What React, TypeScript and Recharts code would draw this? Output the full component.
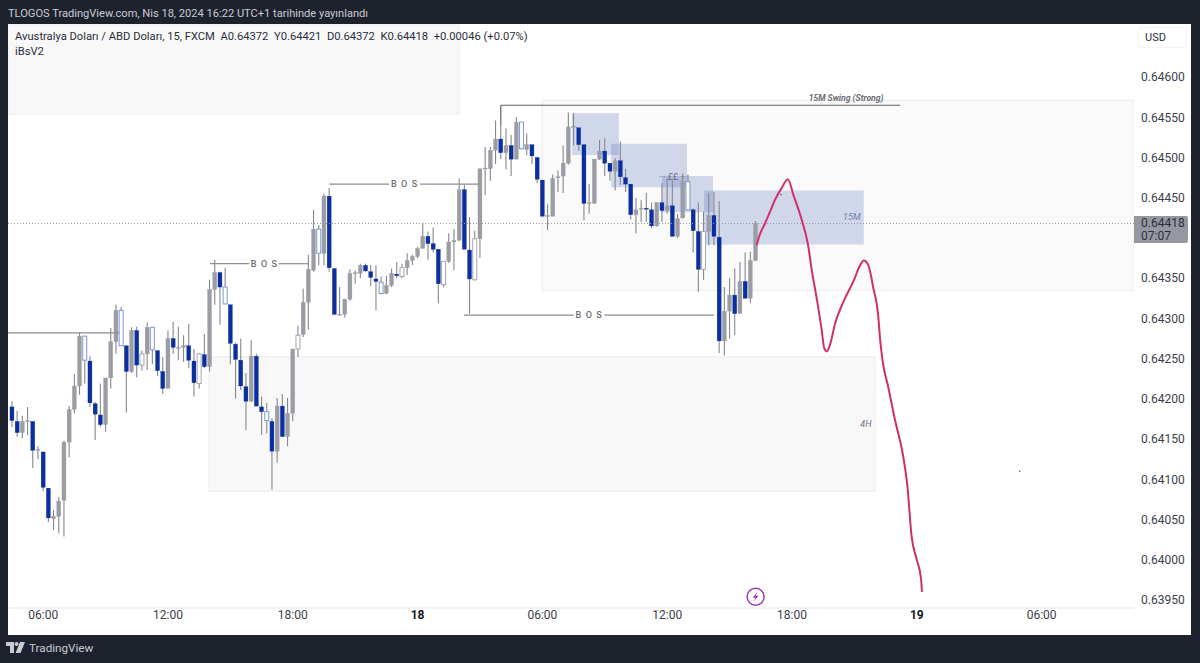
import React from "react";
import {
  ComposedChart, Bar, Line, XAxis, YAxis, ReferenceArea, ReferenceLine, ReferenceDot,
} from "recharts";

// All prices are in 1/100000 of a USD (pipettes), so 64418 = 0.64418. Bars are 15-minute steps.
const opens = [
  64190,64172,64158,64172,64172,64136,64134,64089,64051,64054,
  64074,64146,64187,64216,64278,64247,64194,64180,64168,64226,
  64271,64310,64266,64234,64285,64242,64256,64289,64260,64234,
  64213,64275,64264,64264,64266,64247,64219,64255,64240,64336,
  64357,64339,64317,64268,64248,64215,64197,64253,64190,64184,
  64172,64135,64191,64153,64182,64262,64280,64320,64360,64411,
  64381,64452,64362,64305,64305,64324,64356,64356,64366,64358,
  64349,64345,64331,64341,64355,64352,64363,64372,64377,64387,
  64402,64393,64386,64342,64371,64395,64397,64460,64385,64348,
  64399,64486,64486,64509,64523,64506,64515,64498,64544,64510,
  64516,64500,64472,64428,64427,64475,64477,64493,64538,64537,
  64516,64443,64443,64498,64508,64493,64483,64496,64475,64467,
  64429,64436,64437,64435,64415,64444,64434,64440,64402,64425,
  64470,64435,64408,64361,64408,64428,64401,64272,64309,64329,
  64306,64346,64325,64372,
];
const closes = [
  64173,64158,64172,64173,64136,64137,64090,64052,64054,64073,
  64146,64187,64216,64278,64248,64195,64181,64168,64226,64271,
  64310,64266,64234,64285,64242,64256,64289,64261,64235,64213,
  64275,64264,64264,64266,64248,64220,64256,64240,64336,64357,
  64339,64318,64269,64249,64216,64197,64253,64191,64184,64173,
  64135,64191,64153,64182,64262,64279,64320,64361,64411,64381,
  64452,64363,64305,64305,64324,64356,64357,64366,64359,64351,
  64346,64331,64341,64356,64353,64363,64372,64377,64387,64402,
  64393,64386,64343,64371,64395,64397,64460,64386,64349,64399,
  64486,64487,64509,64523,64506,64515,64498,64544,64511,64516,
  64502,64473,64427,64428,64474,64476,64493,64538,64539,64516,
  64443,64444,64498,64508,64493,64483,64496,64476,64467,64429,
  64435,64437,64436,64415,64444,64434,64440,64402,64424,64470,
  64435,64409,64361,64408,64428,64402,64272,64309,64329,64306,
  64346,64325,64372,64418,
];
const highs = [
  64197,64185,64179,64190,64172,64141,64134,64089,64062,64078,
  64148,64191,64231,64282,64278,64253,64196,64219,64226,64288,
  64317,64314,64266,64289,64290,64260,64295,64289,64260,64252,
  64285,64296,64290,64279,64293,64262,64257,64281,64348,64373,
  64358,64363,64317,64270,64275,64232,64273,64256,64203,64195,
  64176,64201,64206,64201,64262,64291,64337,64379,64435,64416,
  64455,64462,64362,64339,64324,64361,64360,64368,64368,64366,
  64366,64352,64353,64362,64370,64368,64381,64379,64389,64419,
  64408,64413,64386,64371,64406,64411,64474,64466,64426,64409,
  64486,64513,64513,64546,64540,64536,64528,64550,64544,64530,
  64516,64501,64472,64442,64479,64484,64515,64556,64555,64537,
  64516,64467,64498,64522,64524,64493,64499,64520,64486,64467,
  64450,64447,64456,64444,64444,64468,64474,64471,64430,64480,
  64479,64437,64444,64433,64456,64457,64446,64339,64350,64362,
  64370,64382,64383,64421,
];
const lows = [
  64165,64153,64151,64155,64114,64125,64085,64047,64037,64033,
  64029,64127,64182,64205,64219,64190,64149,64165,64159,64213,
  64256,64266,64183,64232,64227,64235,64236,64243,64228,64206,
  64213,64256,64248,64246,64238,64203,64213,64238,64234,64317,
  64292,64318,64243,64200,64211,64161,64196,64191,64155,64157,
  64087,64121,64153,64141,64172,64252,64277,64286,64358,64366,
  64366,64358,64305,64304,64301,64322,64343,64350,64358,64340,
  64310,64330,64330,64339,64350,64350,64354,64366,64375,64387,
  64373,64382,64319,64339,64369,64360,64397,64386,64306,64347,
  64375,64453,64471,64492,64498,64485,64477,64498,64510,64503,
  64492,64468,64427,64410,64427,64457,64456,64491,64515,64508,
  64422,64430,64443,64497,64477,64471,64459,64466,64457,64423,
  64406,64420,64420,64412,64414,64420,64430,64402,64400,64424,
  64435,64382,64333,64348,64391,64391,64257,64254,64275,64279,
  64306,64325,64319,64372,
];
const hollowBars = [14,21,25,27,36,41,49,55,59,71,75,83,89,98,130,133];

const timeTicks = [6,30,54,78,102,126,150,174,198];
const timeLabels = ["06:00","12:00","18:00","18","06:00","12:00","18:00","19","06:00"];
const priceTicks = [63950,64000,64050,64100,64150,64200,64250,64300,64350,64450,64500,64550,64600];
const lastPrice = 64418;

// The hand-drawn projection, as (bar, price) pairs.
const sketchBars = [143.2,143.8,144.8,145.8,146.7,148,149.2,150.3,151.9,153.1,153.8,154.8,155.7,156.2,156.7,157.3,158.3,159.9,161.8,163.1,163.8,164.7,165.6,166.6,166.9,167.4,168.5,169.8,171.4,172.2,173,174,174.8,175];
const sketchPrices = [64391,64404,64418,64433,64447,64462,64473,64453,64422,64391,64360,64323,64286,64263,64259,64267,64294,64321,64346,64366,64372,64366,64339,64302,64277,64248,64215,64174,64128,64091,64029,64000,63977,63960];

const candles = opens.map((open, i) => ({
  bar: i, open, close: closes[i], high: highs[i], low: lows[i],
  range: [lows[i], highs[i]],
  hollow: hollowBars.includes(i),
}));
const sketch = sketchBars.map((bar, i) => ({ bar, sketchPrice: sketchPrices[i] }));

const BLUE = "#0b2f9f";
const GRAY = "#9b9da4";
const WICK = "#85878e";
const BLOCK = "rgba(22,58,158,0.18)";
const FONT = "Roboto, Inter, sans-serif";

function CandleShape(props: any) {
  const { x, y, width, height, payload } = props;
  const { open, close, high, low, hollow } = payload;
  const cx = x + width / 2;
  const unit = Math.abs(height) / Math.max(1, high - low);
  const top = y + (high - Math.max(open, close)) * unit;
  const h = Math.max(1, Math.abs(open - close) * unit);
  const down = close < open;
  const stroke = hollow ? (down ? "#7d97d8" : "#a4a6ac") : down ? BLUE : GRAY;
  const fill = hollow ? "#ffffff" : down ? BLUE : GRAY;
  return (
    <g>
      <line x1={cx} x2={cx} y1={y} y2={y + Math.abs(height)} stroke={WICK} strokeWidth={1.1} />
      <rect x={cx - 2} y={top} width={4} height={h} fill={fill} stroke={stroke} strokeWidth={hollow ? 1 : 0.3} />
    </g>
  );
}

function TimeTick(props: any) {
  const { x, y, payload } = props;
  const label = timeLabels[timeTicks.indexOf(payload.value)];
  const bold = !label.includes(":");
  return (
    <text x={x} y={y + 9} textAnchor="middle" fontFamily={FONT} fontSize={12} fontWeight={bold ? 700 : 400} fill={bold ? "#131722" : "#3a3e49"}>
      {label}
    </text>
  );
}

function BoltIcon(props: any) {
  const { cx, cy } = props;
  return (
    <g>
      <circle cx={cx} cy={cy} r={8.5} fill="#ffffff" stroke="#9c36b5" strokeWidth={1.5} />
      <path d={`M${cx + 2} ${cy - 5} L${cx - 3} ${cy + 1} L${cx} ${cy + 1} L${cx - 2} ${cy + 5} L${cx + 3} ${cy - 1} L${cx} ${cy - 1} Z`} fill="#9c36b5" />
    </g>
  );
}

const chip = (text: string, size: number, color: string, style?: string, weight?: number, spacing?: number) => ({
  value: text, position: "center" as const,
  style: { fontFamily: FONT, fontSize: size, fill: color, fontStyle: style, fontWeight: weight, letterSpacing: spacing },
});

function Note({ x, y, label }: any) {
  return <ReferenceDot x={x} y={y} r={0} stroke="none" fill="none" ifOverflow="visible" label={label} />;
}

function Seg({ x1, x2, y1, y2, color = "#8b8d92", w = 1.2 }: any) {
  return <ReferenceLine ifOverflow="visible" segment={[{ x: x1, y: y1 }, { x: x2, y: y2 }]} stroke={color} strokeWidth={w} />;
}

const abs = (left: number, top: number): React.CSSProperties => ({ position: "absolute", left, top, whiteSpace: "pre", fontFamily: FONT });

export default function App() {
  return (
    <div style={{ position: "absolute", left: 0, top: 0, width: 1200, height: 663, background: "#1e222d", overflow: "hidden" }}>
      <div style={{ position: "absolute", left: 8, top: 24, width: 1183, height: 611, background: "#ffffff" }} />
      <div style={{ position: "absolute", left: 0, top: 0 }}>
        <ComposedChart width={1200} height={663} data={candles} margin={{ top: 24, right: 9, bottom: 28, left: 8 }}>
          <XAxis
            dataKey="bar" type="number" domain={[-0.77, 215.77]} ticks={timeTicks} allowDataOverflow
            height={27} tick={<TimeTick />} tickLine={false} tickSize={0} axisLine={{ stroke: "#e4e6ec" }} interval={0}
          />
          <YAxis
            orientation="right" type="number" domain={[63940, 64666]} ticks={priceTicks} allowDataOverflow interval={0}
            width={57} tickLine={false} tickSize={0} tickMargin={7} axisLine={false}
            tickFormatter={(v: number) => (v / 100000).toFixed(5)}
            tick={{ fontFamily: FONT, fontSize: 12, fill: "#3a3e49" }}
          />

          <ReferenceArea x1={-0.77} x2={86} y1={64554} y2={64666} fill="#f8f8f9" fillOpacity={1} stroke="#f1f1f3" strokeWidth={1.5} ifOverflow="hidden" />
          <ReferenceArea x1={101.9} x2={215.77} y1={64335} y2={64571} fill="#fafafb" fillOpacity={1} stroke="#f0f0f2" strokeWidth={1.5} ifOverflow="hidden" />
          <ReferenceArea x1={37.9} x2={166} y1={64085} y2={64252} fill="#f8f8f9" fillOpacity={1} stroke="#f0f0f2" strokeWidth={1.5} ifOverflow="hidden" />
          <ReferenceArea x1={107.7} x2={116.7} y1={64503} y2={64555} fill={BLOCK} fillOpacity={1} stroke="none" />
          <ReferenceArea x1={115.2} x2={129.8} y1={64463} y2={64517} fill={BLOCK} fillOpacity={1} stroke="none" />
          <ReferenceArea x1={125} x2={134.8} y1={64432} y2={64477} fill={BLOCK} fillOpacity={1} stroke="none" />
          <ReferenceArea x1={133.1} x2={163.8} y1={64392} y2={64459} fill={BLOCK} fillOpacity={1} stroke="none" />

          <ReferenceLine y={lastPrice} stroke="#9598a1" strokeWidth={1} strokeDasharray="1 2" />

          {Seg({ x1: -0.77, x2: 20.6, y1: 64282, y2: 64282 })}
          {Seg({ x1: 38.1, x2: 45.6, y1: 64368, y2: 64368 })}
          {Seg({ x1: 51.3, x2: 57.1, y1: 64368, y2: 64368 })}
          {Seg({ x1: 61, x2: 72.5, y1: 64467, y2: 64467 })}
          {Seg({ x1: 78.5, x2: 89.8, y1: 64467, y2: 64467 })}
          {Seg({ x1: 86.9, x2: 108, y1: 64304, y2: 64304 })}
          {Seg({ x1: 113.9, x2: 135, y1: 64304, y2: 64304 })}
          {Seg({ x1: 94, x2: 170.8, y1: 64565, y2: 64565, color: "#5f6167" })}
          {Seg({ x1: 94, x2: 94, y1: 64565, y2: 64540, color: "#5f6167" })}

          <Bar dataKey="range" barSize={4} shape={<CandleShape />} isAnimationActive={false} />

          <Line data={sketch} dataKey="sketchPrice" type="monotone" stroke="#d02f6e" strokeWidth={2} dot={false} isAnimationActive={false} legendType="none" />

          {Note({ x: 48.55, y: 64368, label: chip("B O S", 9, "#6a6d75", undefined, 500, 1.1) })}
          {Note({ x: 75.5, y: 64467, label: chip("B O S", 9, "#6a6d75", undefined, 500, 1.1) })}
          {Note({ x: 111, y: 64304, label: chip("B O S", 9, "#6a6d75", undefined, 500, 1.1) })}
          {Note({ x: 160.4, y: 64574, label: chip("15M Swing (Strong)", 8.6, "#6a6d75", "italic", 700) })}
          {Note({ x: 161.5, y: 64426, label: chip("15M", 9, "#6f80b5", "italic") })}
          {Note({ x: 164.2, y: 64169, label: chip("4H", 9, "#6a6d75", "italic") })}
          {Note({ x: 126.9, y: 64476, label: chip("··· ££ ··", 9, "#6a6d75") })}

          <ReferenceDot x={147.9} y={64454} r={0.8} fill="#7a3a5c" stroke="none" />
          <ReferenceDot x={193.8} y={64110} r={0.8} fill="#55575c" stroke="none" />
          <ReferenceDot x={143} y={63954} r={8.5} shape={<BoltIcon />} />
        </ComposedChart>
      </div>

      <div style={{ ...abs(8, 7), fontSize: 11.1, lineHeight: "14px", color: "#c9ccd4" }}>TLOGOS TradingView.com, Nis 18, 2024 16:22 UTC+1 tarihinde yayınlandı</div>
      <div style={{ ...abs(15, 30), fontSize: 11.2, lineHeight: "14px", color: "#2a2e39" }}>{"Avustralya Doları / ABD Doları, 15, FXCM  A0.64372  Y0.64421  D0.64372  K0.64418  +0.00046 (+0.07%)"}</div>
      <div style={{ ...abs(15, 45), fontSize: 11.2, lineHeight: "14px", color: "#2a2e39" }}>iBsV2</div>

      <div style={{ ...abs(1138, 27), width: 49, height: 21, border: "1px solid #f3f3f5", borderRadius: 3, boxSizing: "border-box", background: "#fff", fontSize: 11, lineHeight: "20px", color: "#2a2e39", paddingLeft: 6 }}>USD</div>

      <div style={{ ...abs(1134, 216), width: 54, height: 27, background: "#9598a1", borderRadius: "0 2px 2px 0", fontSize: 12, lineHeight: "13px", color: "#2a2e39", paddingLeft: 7, paddingTop: 1, boxSizing: "border-box" }}>
        {"0.64418\n07:07"}
      </div>

      <svg style={{ position: "absolute", left: 6, top: 642 }} width={20} height={12} viewBox="0 0 20 12">
        <path d="M0 0 H8 V11 H4 V4 H0 Z" fill="#c9ccd4" />
        <circle cx="10.5" cy="2" r="2" fill="#c9ccd4" />
        <path d="M14 0 H19 L14.5 11 H9.5 Z" fill="#c9ccd4" />
      </svg>
      <div style={{ ...abs(29, 640), fontSize: 11.7, lineHeight: "16px", color: "#c9ccd4" }}>TradingView</div>
    </div>
  );
}
